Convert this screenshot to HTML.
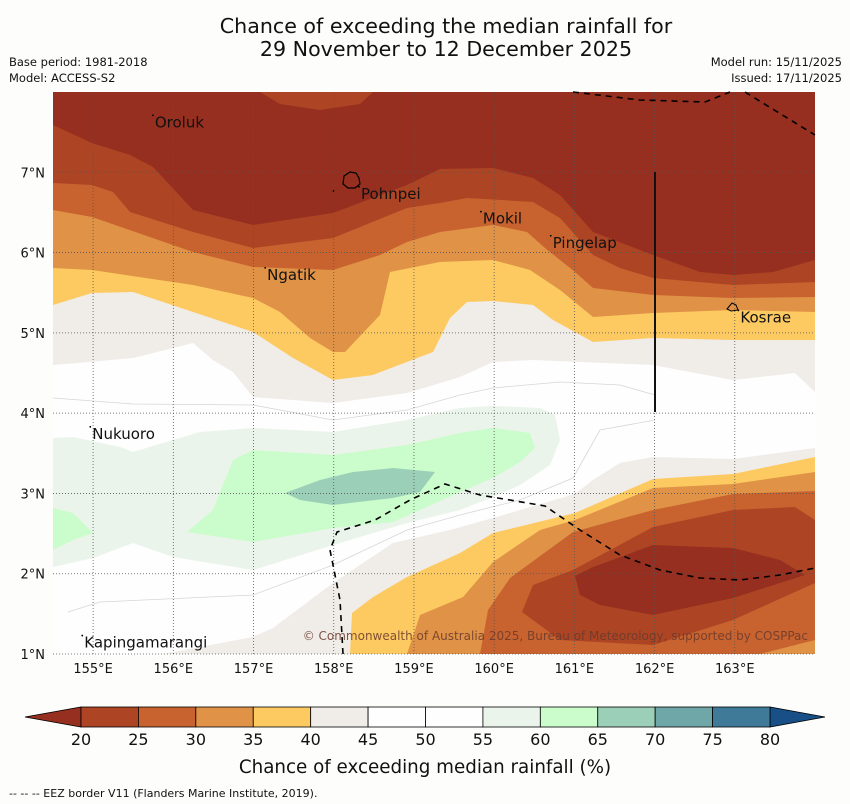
<!DOCTYPE html>
<html><head><meta charset="utf-8">
<style>
html,body{margin:0;padding:0;background:#fdfefc;}
body{width:850px;height:804px;overflow:hidden;font-family:"DejaVu Sans","Liberation Sans",sans-serif;}
svg{position:absolute;left:0;top:0;}
</style></head>
<body>
<svg id="chart" width="850" height="804" viewBox="0 0 850 804" xmlns="http://www.w3.org/2000/svg">
<text x="446" y="33" font-size="20.6" text-anchor="middle" fill="#111">Chance of exceeding the median rainfall for</text>
<text x="446" y="56" font-size="20.6" text-anchor="middle" fill="#111">29 November to 12 December 2025</text>
<text x="9" y="66" font-size="11.5" fill="#111">Base period: 1981-2018</text>
<text x="9" y="82" font-size="11.5" fill="#111">Model: ACCESS-S2</text>
<text x="842" y="66" font-size="11.5" text-anchor="end" fill="#111">Model run: 15/11/2025</text>
<text x="842" y="82" font-size="11.5" text-anchor="end" fill="#111">Issued: 17/11/2025</text>
<defs><clipPath id="mapclip"><rect x="53" y="92" width="762" height="562"/></clipPath></defs>
<g id="map" clip-path="url(#mapclip)"></g>
<g id="overlay"></g>
<g id="cbar"></g>
<text x="425" y="773" font-size="18.3" text-anchor="middle" fill="#111">Chance of exceeding median rainfall (%)</text>
<text x="9" y="797" font-size="11" fill="#111">--  --  -- EEZ border V11 (Flanders Marine Institute, 2019).</text>
</svg>
<script>
// Colorbar data
const levels = [20,25,30,35,40,45,50,55,60,65,70,75,80];
const bandColors = ["#ad4524","#c86330","#e09346","#fdca62","#f0ece8","#fdfefd","#fdfefd","#eaf4ea","#cbfccb","#9ccfb8","#6fa6a8","#3f7a99"];
const underColor = "#962f1f";
const overColor = "#174f86";
// Map axes data
const lonTicks = [155,156,157,158,159,160,161,162,163];
const latTicks = [1,2,3,4,5,6,7];
const lonMin = 154.5, lonMax = 164.0, latMin = 1.0, latMax = 8.0;
// Contour boundaries (map-space points, x then y)
const north45 = [[53,365],[133,358],[193,343],[213,360],[233,372],[253,397],[333,403],[407,393],[460,377],[493,362],[533,360],[653,365],[733,380],[795,373],[815,392]];
const north40 = [[53,305],[92,293],[133,292],[193,312],[253,332],[293,358],[333,380],[373,375],[433,352],[450,318],[467,302],[493,301],[533,305],[553,320],[593,342],[653,338],[733,340],[815,340]];
const north35 = [[53,268],[92,270],[193,285],[253,298],[280,312],[310,338],[333,352],[345,352],[380,315],[390,272],[440,262],[493,260],[530,270],[560,290],[593,317],[653,313],[733,310],[815,312]];
const north30 = [[53,210],[92,217],[193,252],[253,267],[333,270],[380,255],[407,242],[440,232],[493,225],[527,232],[545,248],[575,272],[593,288],[653,295],[733,298],[815,297]];
const north25 = [[53,183],[92,185],[113,192],[130,212],[193,232],[253,248],[333,238],[407,208],[440,203],[467,198],[533,202],[560,218],[593,255],[620,268],[653,278],[733,285],[815,282]];
const north20 = [[53,125],[92,143],[130,155],[153,167],[193,210],[253,225],[333,213],[407,185],[440,169],[493,168],[533,178],[560,195],[593,232],[653,255],[700,272],[733,275],[773,272],[815,260]];
const topPatch25 = [[260,92],[373,92],[360,104],[320,110],[280,104]];
const south45 = [[163,654],[253,637],[273,628],[333,583],[393,543],[450,530],[493,518],[575,494],[593,480],[620,463],[653,457],[733,459],[815,448]];
const south40 = [[350,654],[352,613],[373,597],[407,577],[460,553],[493,533],[575,513],[653,479],[733,474],[815,457]];
const south35 = [[407,654],[420,615],[463,597],[493,562],[540,530],[575,520],[653,488],[733,484],[815,472]];
const south30 = [[480,654],[488,610],[510,578],[573,532],[653,510],[733,494],[815,491]];
const south25 = [[522,612],[533,585],[573,570],[653,527],[733,510],[795,507],[815,520],[815,583],[733,620],[653,645],[560,640]];
const south20 = [[575,576],[593,567],[653,545],[733,548],[780,560],[805,575],[733,598],[653,615],[600,605],[580,595]];
const southCorner30 = [[760,654],[815,640],[815,654]];
const wet55 = [[53,438],[73,437],[120,447],[133,452],[200,432],[253,428],[333,432],[407,420],[460,408],[493,406],[540,408],[555,415],[560,440],[550,465],[520,485],[493,497],[460,510],[407,523],[333,545],[253,570],[173,557],[133,543],[93,558],[53,567]];
const wet60 = [[187,532],[213,510],[233,460],[253,450],[333,455],[407,445],[460,433],[493,428],[530,433],[535,448],[520,462],[493,478],[460,492],[393,522],[333,528],[253,542]];
const wet60left = [[53,508],[73,513],[93,533],[73,540],[53,550]];
const wet65 = [[285,493],[320,480],[353,472],[393,468],[435,472],[420,492],[393,498],[333,505],[300,500]];
const thin50 = [[53,398],[133,404],[253,405],[333,420],[407,410],[460,395],[493,388],[560,382],[620,385],[655,395]];
const thin50s = [[68,612],[100,602],[253,595],[333,565],[407,530],[460,515],[520,500],[573,478],[600,430],[655,420]];
const eezTop = [[573,92],[640,100],[705,102],[730,92]];
const eezTop2 = [[745,92],[815,135]];
const eezSouth = [[343,654],[340,600],[330,550],[337,532],[375,520],[410,500],[445,484],[480,495],[545,506],[580,530],[620,555],[660,570],[700,578],[740,580],[780,575],[815,568]];
const islandNames = ["Oroluk","Pohnpei","Mokil","Pingelap","Ngatik","Kosrae","Nukuoro","Kapingamarangi"];
const islandLon = [155.77,158.34,159.86,160.73,157.17,163.07,154.99,154.89];
const islandLat = [7.56,6.67,6.36,6.06,5.66,5.13,3.68,1.08];

const NS="http://www.w3.org/2000/svg";
const mapG=document.getElementById('map');
const ovG=document.getElementById('overlay');
const cbG=document.getElementById('cbar');
function lonX(l){return 53+(l-lonMin)*(762/(lonMax-lonMin));}
function latY(l){return 92+(latMax-l)*(562/(latMax-latMin));}
function mk(tag,attrs,parent){const e=document.createElementNS(NS,tag);for(const k in attrs)e.setAttribute(k,attrs[k]);parent.appendChild(e);return e;}
function pts(a){return a.map(p=>p[0]+','+p[1]).join(' ');}
function northPoly(b,color,name){
  const p=[[53,92],[815,92]].concat(b.slice().reverse());
  const el=mk('polygon',{points:pts(p),fill:color},mapG);
  
  
}
function southPoly(b,color,name){
  const p=b.concat([[815,654]]);
  const el=mk('polygon',{points:pts(p),fill:color},mapG);
  
  
}
function closedPoly(b,color,name){
  const el=mk('polygon',{points:pts(b),fill:color},mapG);
  
  
}
const bg=mk('rect',{x:53,y:92,width:762,height:562,fill:bandColors[5]},mapG);


northPoly(north45,bandColors[4],'north-band-40-45');
northPoly(north40,bandColors[3],'north-band-35-40');
northPoly(north35,bandColors[2],'north-band-30-35');
northPoly(north30,bandColors[1],'north-band-25-30');
northPoly(north25,bandColors[0],'north-band-20-25');
northPoly(north20,underColor,'north-band-below-20');
closedPoly(topPatch25,bandColors[0],'north-patch-20-25');
southPoly(south45,bandColors[4],'south-band-40-45');
southPoly(south40,bandColors[3],'south-band-35-40');
southPoly(south35,bandColors[2],'south-band-30-35');
southPoly(south30,bandColors[1],'south-band-25-30');
closedPoly(southCorner30,bandColors[2],'south-corner-30-35');
closedPoly(south25,bandColors[0],'south-band-20-25');
closedPoly(south20,underColor,'south-band-below-20');
closedPoly(wet55,bandColors[7],'wet-band-55-60');
closedPoly(wet60,bandColors[8],'wet-band-60-65');
closedPoly(wet60left,bandColors[8],'wet-band-60-65-west');
closedPoly(wet65,bandColors[9],'wet-band-65-70');
[thin50,thin50s].forEach((l,i)=>{
  const el=mk('polyline',{points:pts(l),fill:'none',stroke:'#d6d6d6','stroke-width':0.8},mapG);
  
  
});
// grid
lonTicks.forEach(v=>{
  const x=lonX(v);
  const g=mk('line',{x1:x,y1:92,x2:x,y2:654,stroke:'#555','stroke-width':0.8,'stroke-dasharray':'1,2'},ovG);
  
  
  const t=mk('text',{x:x,y:673,'font-size':13,'text-anchor':'middle',fill:'#111'},ovG);
  t.textContent=v+'°E';
  
  
});
latTicks.forEach(v=>{
  const y=latY(v);
  const g=mk('line',{x1:53,y1:y,x2:815,y2:y,stroke:'#555','stroke-width':0.8,'stroke-dasharray':'1,2'},ovG);
  
  
  const t=mk('text',{x:45,y:y+5,'font-size':13,'text-anchor':'end',fill:'#111'},ovG);
  t.textContent=v+'°N';
  
  
});
// EEZ
[eezTop,eezTop2,eezSouth].forEach(l=>{
  const el=mk('polyline',{points:pts(l),fill:'none',stroke:'#000','stroke-width':1.6,'stroke-dasharray':'6,5'},ovG);
  
  
});
const vl=mk('line',{x1:655,y1:172,x2:655,y2:412,stroke:'#111','stroke-width':2},ovG);


// islands outlines
const pohn=mk('path',{d:'M344,176 L350,172 L356,173 L359,178 L360,184 L355,188 L348,188 L343,184 Z M334,190 L333,192',fill:'none',stroke:'#000','stroke-width':1.2},ovG);


const kos=mk('path',{d:'M727,309 L732,303 L736,305 L738,310 L731,311 Z',fill:'none',stroke:'#000','stroke-width':1},ovG);


islandNames.forEach((n,i)=>{
  const x=lonX(islandLon[i]), y=latY(islandLat[i]);
  const d=mk('circle',{cx:x-2,cy:y-12,r:0.9,fill:'#000'},ovG);
  
  
  const t=mk('text',{x:x,y:y,'font-size':15,fill:'#111'},ovG);
  t.textContent=n;
  
  
});
const cp=mk('text',{x:808,y:640,'font-size':12,'text-anchor':'end',fill:'#6a3a2c','fill-opacity':0.85},ovG);
cp.textContent='© Commonwealth of Australia 2025, Bureau of Meteorology, supported by COSPPac';


// colorbar
const cbX0=81, cbX1=770, cbY=707, cbH=20;
function valX(v){return cbX0+(v-levels[0])*(cbX1-cbX0)/(levels[levels.length-1]-levels[0]);}
const lt=mk('polygon',{points:`${valX(levels[0])},${cbY} ${valX(levels[0])},${cbY+cbH} 25,${cbY+cbH/2}`,fill:underColor,stroke:'#000','stroke-width':0.8},cbG);


const rt=mk('polygon',{points:`${valX(levels[12])},${cbY} ${valX(levels[12])},${cbY+cbH} 825,${cbY+cbH/2}`,fill:overColor,stroke:'#000','stroke-width':0.8},cbG);


bandColors.forEach((c,i)=>{
  const x=valX(levels[i]), w=valX(levels[i+1])-x;
  const r=mk('rect',{x:x,y:cbY,width:w,height:cbH,fill:c,stroke:'#000','stroke-width':0.8},cbG);
  
  
});
levels.forEach(v=>{
  const t=mk('text',{x:valX(v),y:745,'font-size':16,'text-anchor':'middle',fill:'#111'},cbG);
  t.textContent=v;
  
  
});
</script>
</body></html>
